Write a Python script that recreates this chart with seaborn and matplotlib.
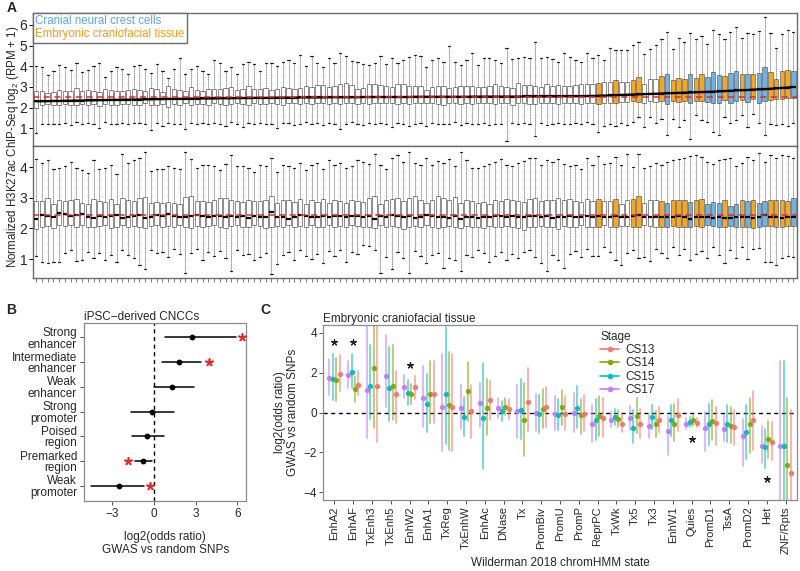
import numpy as np
import pandas as pd
import matplotlib
matplotlib.use("Agg")
import matplotlib.pyplot as plt
from matplotlib.lines import Line2D
import seaborn as sns

sns.set_style("ticks")
plt.rcParams["font.family"] = ["Liberation Sans", "DejaVu Sans"]
plt.rcParams["mathtext.fontset"] = "custom"
plt.rcParams["mathtext.rm"] = "Liberation Sans"

# ── Panel A data: 133 ChIP-seq samples (box stats) ──────────────────────────
N_SAMPLES = 133
TAIL_GROUPS = ["T", "W", "W", "T", "W", "W", "T", "T", "W", "W", "W", "T", "C",
               "T", "T", "T", "C", "T", "T", "C", "C", "C", "T", "C", "C", "T",
               "C", "T", "C", "C", "T", "T", "T", "T", "C"]
SAMPLE_GROUP = ["W"] * (N_SAMPLES - len(TAIL_GROUPS)) + TAIL_GROUPS

# raw log2(RPM+1): upper whisker, Q3, median, Q1, lower whisker
TOP_WHI = [4.02, 3.95, 3.58, 3.78, 4.05, 3.95, 3.82, 4.18, 3.72, 3.82,
           4.00, 4.18, 3.48, 3.78, 3.95, 3.88, 3.62, 4.00, 4.08, 3.85,
           3.66, 4.12, 3.78, 3.42, 3.85, 4.42, 3.62, 3.88, 4.02, 3.78,
           3.62, 4.30, 4.15, 3.78, 3.95, 3.62, 4.10, 4.22, 4.10, 3.78,
           4.15, 4.18, 4.00, 4.22, 4.32, 4.15, 4.55, 4.00, 4.50, 4.18,
           3.95, 4.40, 4.15, 4.62, 4.48, 4.25, 4.22, 4.10, 4.05, 4.18,
           4.52, 4.12, 4.38, 4.15, 4.30, 4.45, 4.55, 4.50, 3.98, 4.32,
           4.38, 4.22, 4.96, 4.22, 4.05, 4.30, 4.62, 4.05, 4.40, 4.38,
           4.30, 4.18, 4.90, 4.35, 4.38, 4.45, 4.40, 5.19, 4.42, 4.45,
           4.35, 4.22, 4.62, 4.45, 4.32, 4.22, 4.62, 4.40,
           4.54, 4.30, 4.90, 4.80, 4.80, 4.78, 5.03, 5.19, 4.60, 4.85,
           5.05, 5.30, 5.64, 4.85, 5.35, 5.16, 5.60, 5.30, 5.45, 5.10,
           5.76, 5.55, 5.30, 5.64, 5.92, 5.38, 5.60, 5.55, 5.70, 6.37,
           5.60, 4.90, 5.55, 5.76, 5.64]
TOP_Q3 = [2.78, 2.82, 2.72, 2.75, 2.85, 2.80, 2.82, 2.95, 2.78, 2.86,
          2.80, 2.76, 2.88, 2.85, 2.80, 2.78, 2.86, 2.90, 2.85, 2.80,
          2.95, 2.90, 2.75, 3.02, 2.88, 2.86, 2.82, 2.98, 2.84, 2.82,
          2.90, 2.92, 2.88, 2.96, 2.98, 2.86, 2.92, 3.06, 2.90, 2.88,
          2.96, 2.86, 2.92, 3.00, 2.94, 2.88, 2.96, 3.02, 2.98, 3.10,
          3.08, 2.98, 3.04, 3.12, 3.18, 3.10, 2.90, 2.96, 3.12, 3.14,
          3.08, 3.04, 2.98, 3.16, 3.12, 3.02, 3.06, 3.04, 2.86, 3.00,
          3.04, 3.02, 2.96, 2.98, 3.06, 3.04, 3.06, 3.00, 2.98, 3.02,
          3.12, 3.04, 3.00, 2.96, 3.20, 3.08, 3.10, 3.06, 2.98, 3.14,
          3.06, 3.08, 3.02, 3.04, 3.10, 3.12, 3.14, 3.12,
          3.17, 3.22, 3.25, 3.33, 3.25, 3.25, 3.33, 3.46, 3.12, 3.37,
          3.37, 3.52, 3.62, 3.33, 3.41, 3.37, 3.62, 3.44, 3.62, 3.46,
          3.70, 3.56, 3.52, 3.65, 3.75, 3.62, 3.62, 3.62, 3.65, 3.98,
          3.73, 3.36, 3.75, 3.83, 3.75]
TOP_MED = [2.30, 2.31, 2.31, 2.32, 2.32, 2.33, 2.33, 2.34, 2.34, 2.35,
           2.35, 2.36, 2.36, 2.37, 2.37, 2.38, 2.38, 2.39, 2.39, 2.40,
           2.40, 2.41, 2.41, 2.42, 2.42, 2.42, 2.43, 2.43, 2.43, 2.44,
           2.44, 2.44, 2.45, 2.45, 2.45, 2.46, 2.46, 2.46, 2.47, 2.47,
           2.47, 2.47, 2.48, 2.48, 2.48, 2.48, 2.49, 2.49, 2.49, 2.49,
           2.49, 2.50, 2.50, 2.50, 2.50, 2.50, 2.50, 2.51, 2.51, 2.51,
           2.51, 2.51, 2.51, 2.51, 2.51, 2.51, 2.52, 2.52, 2.52, 2.52,
           2.52, 2.52, 2.52, 2.52, 2.52, 2.52, 2.53, 2.53, 2.53, 2.53,
           2.53, 2.53, 2.53, 2.53, 2.53, 2.54, 2.54, 2.54, 2.54, 2.54,
           2.54, 2.54, 2.55, 2.55, 2.55, 2.55, 2.56, 2.56,
           2.57, 2.58, 2.59, 2.60, 2.61, 2.62, 2.63, 2.64, 2.65, 2.66,
           2.67, 2.68, 2.69, 2.70, 2.71, 2.72, 2.73, 2.74, 2.75, 2.76,
           2.77, 2.78, 2.80, 2.81, 2.83, 2.84, 2.85, 2.87, 2.88, 2.89,
           2.91, 2.93, 2.95, 2.97, 3.00]
TOP_Q1 = [2.00, 2.12, 2.15, 2.14, 2.10, 2.15, 2.12, 2.10, 2.18, 2.12,
          2.15, 2.08, 2.16, 2.14, 2.12, 2.18, 2.16, 2.10, 2.14, 2.20,
          2.12, 2.10, 2.18, 2.05, 2.16, 2.14, 2.20, 2.12, 2.15, 2.18,
          2.14, 2.20, 2.16, 2.12, 2.18, 2.22, 2.15, 2.10, 2.20, 2.18,
          2.16, 2.20, 2.18, 2.14, 2.22, 2.20, 2.18, 2.22, 2.16, 2.20,
          2.22, 2.18, 2.20, 2.15, 2.22, 2.24, 2.18, 2.22, 2.16, 2.20,
          2.24, 2.20, 2.22, 2.18, 2.20, 2.18, 2.20, 2.22, 2.20, 2.24,
          2.18, 2.10, 2.22, 2.20, 2.16, 2.22, 2.18, 2.20, 2.24, 2.22,
          2.18, 2.20, 2.22, 2.14, 2.20, 2.22, 2.18, 2.16, 2.20, 2.24,
          2.20, 2.18, 2.22, 2.20, 2.22, 2.18, 2.24, 2.22,
          2.16, 2.22, 2.24, 2.20, 2.26, 2.28, 2.30, 2.28, 2.24, 2.30,
          2.28, 2.32, 2.18, 2.30, 2.28, 2.30, 2.20, 2.32, 2.30, 2.26,
          2.22, 2.24, 2.36, 2.22, 2.30, 2.38, 2.26, 2.40, 2.24, 2.30,
          2.38, 2.42, 2.40, 2.46, 2.44]
TOP_WLO = [0.78, 1.20, 1.22, 1.18, 1.20, 1.26, 1.14, 1.28, 1.20, 1.25,
           1.22, 1.02, 1.28, 1.20, 1.22, 1.26, 1.18, 1.24, 1.26, 1.20,
           0.92, 1.24, 1.12, 1.26, 1.20, 1.22, 0.98, 1.26, 1.20, 1.24,
           1.18, 1.26, 1.22, 1.12, 1.28, 1.20, 1.08, 1.24, 1.20, 1.26,
           1.22, 1.18, 1.00, 1.24, 1.26, 1.16, 1.22, 1.28, 1.20, 1.24,
           1.14, 1.26, 1.22, 0.98, 1.20, 1.28, 1.22, 1.14, 1.26, 1.20,
           1.24, 1.18, 1.06, 1.26, 1.20, 1.12, 1.22, 1.26, 1.10, 1.24,
           1.20, 1.22, 1.22, 1.28, 1.16, 1.24, 1.22, 1.18, 1.26, 1.14,
           1.22, 1.20, 0.40, 1.24, 1.22, 1.26, 1.18, 0.62, 1.24, 1.16,
           1.22, 1.26, 1.20, 1.18, 1.24, 1.20, 1.28, 1.22,
           0.82, 1.10, 1.18, 1.12, 1.23, 1.15, 1.31, 1.52, 1.07, 1.55,
           1.23, 1.47, 0.66, 1.47, 1.07, 1.39, 0.50, 1.63, 1.39, 1.31,
           0.82, 0.66, 1.55, 1.23, 1.39, 1.63, 1.07, 1.71, 1.23, 0.66,
           1.20, 1.15, 1.20, 1.10, 1.23]

# normalized values
BOT_WHI = [4.25, 4.12, 4.22, 3.95, 3.98, 4.05, 4.15, 3.96, 3.90, 3.82,
           4.22, 3.92, 3.98, 4.08, 3.78, 4.42, 4.14, 4.22, 4.30, 4.48,
           3.88, 3.92, 3.92, 4.04, 3.98, 3.92, 4.50, 4.25, 3.98, 4.06,
           4.08, 4.02, 3.90, 4.10, 4.40, 4.05, 4.04, 3.96, 3.84, 4.08,
           4.02, 4.28, 3.84, 4.06, 4.02, 3.98, 4.14, 3.90, 4.08, 4.14,
           3.94, 4.22, 4.06, 4.12, 3.96, 4.02, 4.24, 4.18, 4.10, 4.44,
           4.06, 3.92, 4.28, 4.40, 4.18, 4.48, 4.12, 4.08, 4.30, 4.06,
           4.20, 4.14, 4.26, 4.02, 4.48, 4.22, 3.98, 3.96, 4.04, 4.10,
           4.18, 4.26, 4.06, 4.02, 4.12, 4.20, 4.30, 4.28, 4.08, 4.22,
           4.18, 4.26, 4.10, 4.02, 4.06, 3.94, 4.30, 4.06,
           4.35, 4.10, 4.14, 4.32, 4.08, 4.42, 4.00, 4.44, 3.98, 4.02,
           4.14, 4.06, 4.16, 4.22, 4.26, 4.30, 4.36, 4.40, 4.34, 4.18,
           4.10, 4.22, 4.26, 4.28, 4.02, 4.14, 4.34, 4.24, 4.46, 4.18,
           4.38, 4.30, 4.40, 4.36, 4.28]
BOT_Q3 = [2.90, 2.88, 2.98, 2.78, 2.92, 2.90, 2.92, 2.96, 2.82, 2.78,
          2.96, 2.90, 2.86, 2.96, 2.80, 2.98, 2.92, 2.88, 3.00, 3.02,
          2.84, 2.86, 2.82, 2.86, 2.84, 2.80, 3.02, 3.04, 2.88, 2.90,
          2.86, 2.92, 2.98, 3.00, 2.94, 2.90, 2.86, 2.92, 2.90, 2.90,
          2.94, 3.04, 2.82, 2.94, 2.92, 2.86, 2.96, 2.80, 2.92, 2.86,
          2.96, 2.84, 2.92, 2.90, 2.84, 2.94, 2.90, 2.86, 3.00, 3.04,
          2.80, 2.94, 2.96, 2.98, 2.90, 2.98, 3.06, 2.94, 2.84, 2.92,
          3.04, 2.98, 2.92, 3.02, 2.84, 2.94, 2.90, 2.82, 2.86, 2.80,
          2.92, 2.88, 2.96, 2.94, 2.88, 2.86, 2.96, 3.00, 2.90, 2.94,
          2.92, 3.00, 2.94, 2.96, 2.88, 2.86, 2.96, 2.88,
          2.96, 2.88, 2.90, 2.96, 2.80, 2.92, 2.96, 3.06, 2.84, 2.92,
          2.94, 2.88, 2.84, 2.92, 2.92, 2.92, 2.86, 2.92, 2.96, 2.78,
          2.86, 2.84, 2.92, 2.72, 2.78, 2.94, 2.90, 2.94, 2.82, 2.90,
          2.94, 2.92, 2.94, 2.90, 2.98]
BOT_MED = [2.32, 2.44, 2.40, 2.36, 2.50, 2.46, 2.40, 2.44, 2.46, 2.38,
           2.34, 2.42, 2.36, 2.40, 2.44, 2.34, 2.38, 2.42, 2.44, 2.34,
           2.38, 2.44, 2.42, 2.46, 2.40, 2.38, 2.36, 2.42, 2.44, 2.40,
           2.36, 2.42, 2.40, 2.36, 2.40, 2.36, 2.42, 2.34, 2.40, 2.36,
           2.38, 2.52, 2.36, 2.38, 2.32, 2.36, 2.44, 2.40, 2.38, 2.36,
           2.40, 2.36, 2.42, 2.40, 2.38, 2.42, 2.40, 2.36, 2.42, 2.32,
           2.40, 2.36, 2.44, 2.40, 2.38, 2.40, 2.34, 2.38, 2.44, 2.40,
           2.36, 2.38, 2.34, 2.40, 2.30, 2.36, 2.38, 2.34, 2.36, 2.38,
           2.42, 2.40, 2.36, 2.40, 2.38, 2.36, 2.42, 2.40, 2.36, 2.40,
           2.34, 2.38, 2.36, 2.40, 2.36, 2.38, 2.42, 2.38,
           2.40, 2.36, 2.38, 2.40, 2.36, 2.36, 2.40, 2.44, 2.36, 2.38,
           2.36, 2.38, 2.36, 2.38, 2.40, 2.38, 2.32, 2.38, 2.36, 2.36,
           2.34, 2.36, 2.34, 2.34, 2.36, 2.38, 2.36, 2.34, 2.36, 2.44,
           2.38, 2.36, 2.34, 2.38, 2.38]
BOT_Q1 = [1.98, 2.06, 2.08, 2.02, 2.10, 2.08, 2.12, 2.06, 2.10, 2.06,
          2.04, 2.08, 2.10, 2.02, 2.06, 2.10, 2.04, 2.08, 2.06, 2.00,
          2.08, 2.10, 2.04, 2.08, 2.06, 2.10, 2.06, 2.00, 2.08, 2.04,
          2.08, 2.10, 2.06, 2.02, 2.08, 2.10, 2.04, 2.06, 2.10, 2.08,
          2.02, 2.04, 2.08, 2.06, 2.10, 2.04, 2.08, 2.06, 2.10, 2.04,
          2.06, 2.10, 2.04, 2.08, 2.06, 2.10, 2.08, 2.04, 2.06, 2.00,
          2.10, 2.04, 2.08, 2.06, 1.98, 2.06, 2.08, 2.04, 2.10, 2.06,
          2.02, 2.06, 2.08, 2.04, 2.00, 2.08, 2.04, 2.06, 2.02, 2.08,
          2.06, 2.04, 2.08, 2.06, 2.02, 1.96, 2.04, 2.06, 2.08, 2.04,
          2.06, 1.98, 2.08, 2.06, 2.04, 2.10, 2.06, 2.04,
          2.06, 2.10, 2.06, 2.04, 2.08, 2.08, 2.06, 2.04, 2.10, 2.08,
          2.06, 2.04, 2.06, 2.08, 2.06, 2.04, 2.06, 2.08, 2.06, 2.10,
          2.08, 2.06, 2.06, 2.08, 2.04, 2.06, 2.06, 2.02, 2.06, 2.08,
          2.08, 2.04, 2.06, 2.08, 2.08]
BOT_WLO = [1.10, 0.92, 0.88, 0.90, 0.90, 1.20, 1.28, 0.95, 0.96, 1.22,
           1.04, 1.20, 0.96, 1.12, 0.92, 1.30, 1.12, 1.02, 0.80, 0.66,
           1.28, 1.20, 1.24, 1.06, 1.32, 1.16, 0.55, 1.20, 1.32, 0.98,
           1.22, 1.10, 1.26, 1.04, 0.60, 1.30, 1.12, 1.18, 0.96, 1.06,
           1.20, 0.50, 0.84, 1.12, 1.22, 0.96, 1.28, 1.10, 1.00, 1.18,
           0.88, 1.26, 1.10, 1.30, 0.92, 1.22, 1.16, 1.46, 1.42, 1.30,
           0.55, 1.08, 0.68, 1.24, 1.02, 0.55, 1.26, 1.10, 0.88, 1.14,
           1.20, 0.72, 1.02, 0.96, 0.60, 1.14, 1.08, 1.28, 1.20, 0.90,
           1.10, 1.24, 0.98, 1.16, 1.04, 1.22, 1.30, 1.06, 0.88, 0.60,
           1.14, 0.96, 0.70, 1.18, 1.26, 1.08, 1.32, 1.10,
           1.10, 1.40, 1.22, 0.98, 0.82, 1.20, 1.30, 1.02, 1.06, 0.95,
           1.34, 1.20, 1.04, 1.40, 1.14, 1.32, 0.98, 1.18, 1.26, 1.02,
           1.38, 1.12, 0.88, 1.30, 1.04, 1.38, 1.00, 1.32, 1.36, 0.90,
           0.92, 0.82, 1.02, 1.10, 1.06]

TOP_REF = 2.5
BOT_REF = 2.43

# ── Panel B data ────────────────────────────────────────────────────────────
B_LABELS = ["Strong\nenhancer", "Intermediate\nenhancer", "Weak\nenhancer",
            "Strong\npromoter", "Poised\nregion", "Premarked\nregion",
            "Weak\npromoter"]
B_EST = [2.75, 1.80, 1.27, -0.17, -0.50, -0.82, -2.52]
B_LO = [0.80, 0.58, 0.00, -1.65, -1.58, -1.37, -4.55]
B_HI = [5.90, 3.35, 2.90, 1.45, 0.72, -0.12, -0.70]
B_STAR_ROWS = ["Strong\nenhancer", "Intermediate\nenhancer",
               "Premarked\nregion", "Weak\npromoter"]
B_STAR_X = [6.30, 3.95, -1.90, -0.33]

# ── Panel C data ────────────────────────────────────────────────────────────
C_STATES = ["EnhA2", "EnhAF", "TxEnh3", "TxEnh5", "EnhW2", "EnhA1", "TxReg",
            "TxEnhW", "EnhAc", "DNase", "Tx", "PromBiv", "PromU", "PromP",
            "ReprPC", "TxWk", "Tx5", "Tx3", "EnhW1", "Quies", "PromD1", "TssA",
            "PromD2", "Het", "ZNF/Rpts"]
CS17_EST = [1.75, 1.90, 1.11, 1.85, 1.27, 0.73, 0.30, 0.25, 0.50, 0.23, 0.07,
            0.00, -0.05, 0.00, -0.58, -0.38, -0.26, -0.66, -0.91, -0.55,
            -0.79, -0.84, -1.16, -1.70, -1.70]
CS17_LO = [0.86, 1.22, -1.26, 0.28, 0.73, -0.71, -1.95, -0.83, -0.71, -0.26,
           -1.26, -0.93, -0.88, -0.96, -1.49, -0.74, -0.88, -1.26, -2.12,
           -0.83, -1.95, -1.45, -2.69, -2.53, -5.0]
CS17_HI = [2.71, 2.60, 4.8, 3.87, 1.90, 2.35, 2.93, 1.39, 1.47, 0.73, 1.39,
           0.94, 0.83, 0.98, 0.36, 0.03, 0.33, -0.05, -0.17, -0.26, 0.03,
           -0.13, -0.30, -0.68, 2.60]
CS15_EST = [1.69, 2.02, 1.32, 1.24, 0.98, 0.41, 0.91, -0.20, -0.25, 0.07, 0.12,
            -0.08, -0.10, 0.23, -0.38, -0.21, -0.76, -0.21, -0.35, -0.46,
            -0.60, -0.58, -0.96, -1.74, -1.70]
CS15_LO = [0.61, 1.22, -0.30, -0.43, 0.36, -0.96, -1.59, -1.16, -2.83, -0.43,
           -1.34, -1.04, -0.88, -0.79, -1.37, -0.63, -1.54, -0.84, -1.17,
           -0.71, -1.62, -1.49, -2.33, -2.78, -5.0]
CS15_HI = [2.93, 2.96, 3.39, 3.30, 1.64, 1.95, 4.28, 0.79, 2.51, 0.56, 1.69,
           0.89, 0.69, 1.31, 0.66, 0.20, 0.12, 0.36, 0.40, -0.21, 0.45, 0.36,
           0.40, -0.84, 2.60]
CS14_EST = [1.64, 1.16, 2.23, 1.31, 0.91, 0.91, 0.40, 1.06, 0.23, 0.28, -0.38,
            0.17, 0.28, -0.13, -0.17, -0.30, -0.17, -0.60, -0.55, -0.38,
            -0.43, -0.66, -0.60, -1.34, -2.64]
CS14_LO = [0.58, 0.53, -0.76, -0.35, 0.45, -0.50, -1.87, -0.43, -1.12, -0.13,
           -2.20, -0.79, -0.63, -1.09, -1.16, -0.71, -1.04, -1.24, -1.42,
           -0.66, -1.37, -1.54, -2.03, -2.28, -5.0]
CS14_HI = [2.76, 1.82, 4.8, 3.39, 1.42, 2.58, 3.04, 2.55, 1.69, 0.73, 1.47,
           1.19, 1.14, 0.69, 0.81, 0.12, 0.74, 0.07, 0.45, -0.13, 0.64, 0.28,
           0.73, -0.43, 0.73]
CS13_EST = [1.92, 1.39, 1.32, 0.91, 1.27, 0.91, 0.30, 0.07, 0.64, 0.20, 0.53,
            0.28, -0.05, -0.05, -0.25, -0.55, -0.58, -0.35, -0.13, -0.50,
            -0.51, -0.74, -0.38, -1.49, -3.02]
CS13_LO = [1.06, 0.86, -1.49, -0.50, 0.66, -0.50, -1.95, -1.26, -0.38, -0.30,
           -0.93, -0.71, -0.88, -0.93, -1.21, -0.99, -1.29, -0.96, -0.93,
           -0.74, -1.62, -1.62, -1.87, -2.36, -5.0]
CS13_HI = [2.88, 2.10, 4.8, 2.08, 1.85, 2.58, 2.96, 1.39, 1.60, 0.66, 2.23,
           1.27, 0.81, 0.89, 0.73, -0.05, 0.20, 0.28, 0.69, -0.26, 0.28, 0.15,
           1.06, -0.46, 0.15]
C_STAR_STATES = ["EnhA2", "EnhAF", "EnhW2", "Quies", "Het"]
C_STAR_Y = [3.54, 3.54, 2.40, -1.32, -3.32]

STAGE_COLORS = {"CS13": "#F8766D", "CS14": "#7CAE00",
                "CS15": "#00BFC4", "CS17": "#C77CFF"}
BOX_COLORS = {"W": "white", "T": "#FAA619", "C": "#6DB3E6"}
FRAME = "#6b6b6b"


# ── Helpers ─────────────────────────────────────────────────────────────────
def box_frame(stats):
    samples = [f"S{i:03d}" for i in range(N_SAMPLES)]
    rows = []
    for i, s in enumerate(samples):
        for arr in stats:
            rows.append((s, SAMPLE_GROUP[i], arr[i]))
    return samples, pd.DataFrame(rows, columns=["sample", "group", "value"])


def draw_boxes(ax, stats, ref, ylim, yticks):
    samples, df = box_frame(stats)
    sns.boxplot(data=df, x="sample", y="value", hue="group", order=samples,
                hue_order=["W", "T", "C"], palette=BOX_COLORS, legend=False,
                saturation=1, whis=(0, 100), width=0.78, linewidth=0.55,
                linecolor="#6e6e6e", showfliers=False,
                whiskerprops=dict(color="#222222", linestyle=(0, (1, 1.4)),
                                  linewidth=0.6),
                capprops=dict(color="#222222", linewidth=0.9),
                medianprops=dict(color="black", linewidth=1.6),
                ax=ax)
    ax.axhline(ref, color="#e8262a", linestyle=(0, (4, 3)), linewidth=1.1,
               zorder=5)
    ax.set_xlim(-0.6, N_SAMPLES - 0.4)
    ax.set_ylim(*ylim)
    ax.set_yticks(yticks)
    ax.tick_params(axis="y", labelsize=10, length=3, width=0.7,
                   color="black", pad=1)
    ax.set_xlabel("")
    ax.set_ylabel("")
    for sp in ax.spines.values():
        sp.set_color(FRAME)
        sp.set_linewidth(1.0)
    return samples


def stage_frame():
    rows = []
    for stage, est, lo, hi in [("CS17", CS17_EST, CS17_LO, CS17_HI),
                               ("CS15", CS15_EST, CS15_LO, CS15_HI),
                               ("CS14", CS14_EST, CS14_LO, CS14_HI),
                               ("CS13", CS13_EST, CS13_LO, CS13_HI)]:
        for st, e, l, h in zip(C_STATES, est, lo, hi):
            for v in (l, e, h):
                rows.append((st, stage, v))
    return pd.DataFrame(rows, columns=["state", "stage", "value"])


# ── Figure ──────────────────────────────────────────────────────────────────
fig = plt.figure(figsize=(8.0, 5.71), dpi=100)

# Panel A
axA1 = fig.add_axes([0.041, 0.744, 0.955, 0.234])
draw_boxes(axA1, [TOP_WHI, TOP_Q3, TOP_MED, TOP_Q1, TOP_WLO], TOP_REF,
           (0.13, 6.6), [1, 2, 3, 4, 5, 6])
sns.lineplot(x=np.arange(N_SAMPLES), y=TOP_MED, color="black", linewidth=1.6,
             ax=axA1, zorder=4)
axA1.set_xticks([])
leg_handles = [Line2D([], [], linestyle="none"), Line2D([], [], linestyle="none")]
legA = axA1.legend(leg_handles, ["Cranial neural crest cells",
                                 "Embryonic craniofacial tissue"],
                   loc="upper left", handlelength=0, handletextpad=0,
                   labelcolor=["#5aa6e3", "#f39c12"], fontsize=8.3,
                   frameon=True, fancybox=False, framealpha=1,
                   edgecolor=FRAME, borderaxespad=0.0, borderpad=0.2,
                   labelspacing=0.12)
legA.get_frame().set_linewidth(1.0)

axA2 = fig.add_axes([0.041, 0.513, 0.955, 0.231])
samples = draw_boxes(axA2, [BOT_WHI, BOT_Q3, BOT_MED, BOT_Q1, BOT_WLO],
                     BOT_REF, (0.38, 4.68), [1, 2, 3, 4])
axA2.set_xticks(range(N_SAMPLES))
axA2.set_xticklabels([])
axA2.tick_params(axis="x", length=3, width=0.5, color="#444444")

fig.text(0.016, 0.743, "Normalized H3K27ac ChIP-Seq log$_2$ (RPM + 1)",
         rotation=90, ha="center", va="center", fontsize=8.3)

# Panel B
dfB = pd.DataFrame(
    [(lab, v) for lab, l, e, h in zip(B_LABELS, B_LO, B_EST, B_HI)
     for v in (l, e, h)], columns=["label", "value"])
axB = fig.add_axes([0.105, 0.123, 0.203, 0.312])
sns.pointplot(data=dfB, x="value", y="label", order=B_LABELS,
              estimator="median", errorbar=("pi", 100), color="black",
              linestyle="none", marker="o", markersize=4.2,
              markeredgewidth=0, err_kws={"linewidth": 1.1}, ax=axB)
axB.axvline(0, color="black", linestyle=(0, (3, 2.5)), linewidth=1.0)
axB.scatter(B_STAR_X, [B_LABELS.index(r) for r in B_STAR_ROWS],
            marker=(5, 2, 0), s=26, color="#ee2222", linewidths=1.2,
            zorder=6)
axB.set_xlim(-5.05, 6.65)
axB.set_ylim(6.6, -0.6)
axB.set_xticks([-3, 0, 3, 6])
axB.set_xlabel("log2(odds ratio)\nGWAS vs random SNPs", fontsize=8.5,
               labelpad=8, linespacing=1.15)
axB.set_ylabel("")
axB.set_title("iPSC\u2212derived CNCCs", loc="left", fontsize=8.5, pad=2)
axB.tick_params(labelsize=8.5, length=3, width=0.6, color="#333333", pad=2)
for t in axB.get_yticklabels():
    t.set_linespacing(0.95)
for sp in axB.spines.values():
    sp.set_color("#8a8a8a")
    sp.set_linewidth(0.9)

# Panel C
dfC = stage_frame()
axC = fig.add_axes([0.404, 0.124, 0.592, 0.307])
sns.pointplot(data=dfC, x="state", y="value", hue="stage", order=C_STATES,
              hue_order=["CS17", "CS15", "CS14", "CS13"],
              palette=STAGE_COLORS, estimator="median",
              errorbar=("pi", 100), dodge=0.55, linestyle="none", marker="o",
              markersize=3.8, markeredgewidth=0,
              err_kws={"linewidth": 1.3, "alpha": 0.6},
              legend=False, ax=axC)
axC.axhline(0, color="black", linestyle=(0, (3, 2.5)), linewidth=1.0,
            zorder=0.5)
axC.scatter([C_STATES.index(s) for s in C_STAR_STATES], C_STAR_Y,
            marker=(5, 2, 0), s=18, color="#222222", linewidths=0.9, zorder=6)
axC.set_xlim(-0.6, len(C_STATES) - 0.4)
axC.set_ylim(-4.4, 4.4)
axC.set_yticks([-4, -2, 0, 2, 4])
axC.set_xticks(range(len(C_STATES)))
axC.set_xticklabels(C_STATES, rotation=90)
axC.set_xlabel("Wilderman 2018 chromHMM state", fontsize=8.5, labelpad=2)
axC.set_ylabel("log2(odds ratio)\nGWAS vs random SNPs", fontsize=8.5,
               linespacing=1.15, labelpad=3)
axC.set_title("Embryonic craniofacial tissue", loc="left", fontsize=8.5, pad=2)
axC.tick_params(axis="y", labelsize=8.5)
axC.tick_params(axis="x", labelsize=8.0)
axC.tick_params(length=3, width=0.6, color="#333333", pad=1.5)
for sp in axC.spines.values():
    sp.set_color("#8a8a8a")
    sp.set_linewidth(0.9)
stage_handles = [Line2D([0], [0], color=STAGE_COLORS[s], marker="o",
                        markersize=4, markeredgewidth=0, linewidth=1.2)
                 for s in ["CS13", "CS14", "CS15", "CS17"]]
legC = axC.legend(stage_handles, ["CS13", "CS14", "CS15", "CS17"],
                  title="Stage", loc="upper left",
                  bbox_to_anchor=(0.568, 1.015), frameon=False, fontsize=8.5,
                  title_fontsize=8.5, handlelength=1.6, handletextpad=0.5,
                  labelspacing=0.12, borderpad=0.2)
legC._legend_box.align = "left"

# Panel letters
fig.text(0.008, 0.999, "A", fontsize=10, fontweight="bold", va="top")
fig.text(0.008, 0.47, "B", fontsize=10, fontweight="bold", va="top")
fig.text(0.326, 0.47, "C", fontsize=10, fontweight="bold", va="top")

fig.savefig("out.png", dpi=100)
plt.close(fig)
